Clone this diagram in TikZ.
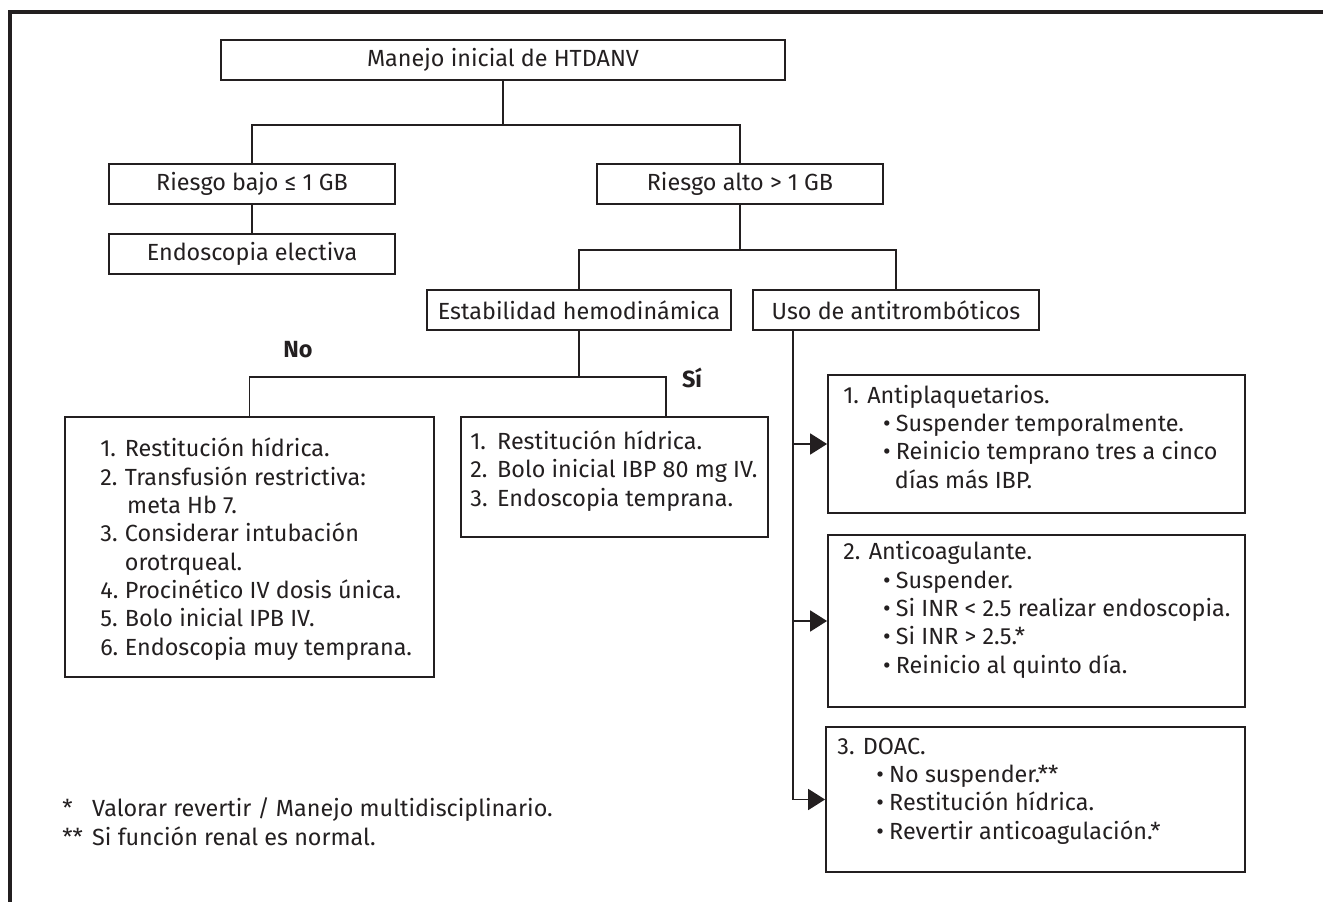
\documentclass[tikz,border=0pt]{standalone}
\usepackage{fontspec}
\setmainfont{Fira Sans}
\usetikzlibrary{positioning, arrows.meta, calc}
\definecolor{ink}{HTML}{231F20}
\newcommand{\lnum}[1]{\makebox[1.05em][l]{#1}}
\newcommand{\lbul}{\makebox[0.55em][l]{\textbullet}}

\begin{document}
\begin{tikzpicture}[x=0.02cm, y=-0.02cm,
    box/.style={draw=ink, line width=1.1pt, minimum height=0.8cm, inner sep=0pt},
    txt/.style={text=ink, font=\fontsize{13.3}{16.1}\selectfont, inner sep=0pt},
    listtxt/.style={txt, align=left, anchor=base west},
    link/.style={draw=ink, line width=1.1pt},
    arr/.style={link, -{Triangle[length=0.34cm, width=0.42cm]}}]
    \clip (0,0) rectangle (1323,902);
    \useasboundingbox (0,0) rectangle (1323,902);
    \draw[ink, line width=1.8pt] (10,12) rectangle (1400,1000);

    % upper part of the tree
    \node[box, txt, minimum width=11.28cm] (top) at (503,60) {Manejo inicial de HTDANV};
    \node[box, txt, minimum width=5.72cm] (bajo) at (252,184) {Riesgo bajo ≤ 1 GB};
    \node[box, txt, minimum width=5.72cm] (endo) at (252,254) {Endoscopia electiva};
    \node[box, txt, minimum width=5.72cm] (alto) at (740,184) {Riesgo alto > 1 GB};
    \node[box, txt, minimum width=6.08cm] (estab) at (579,310) {Estabilidad hemodinámica};
    \node[box, txt, minimum width=5.72cm] (uso) at (896,310) {Uso de antitrombóticos};

    % list boxes
    \node[box, minimum width=7.38cm, minimum height=5.2cm] (nobox) at (249.5,547) {};
    \node[box, minimum width=6.14cm, minimum height=2.4cm] (sibox) at (614.5,477) {};
    \node[box, minimum width=8.34cm, minimum height=2.76cm] (anti) at (1036.5,444) {};
    \node[box, minimum width=8.34cm, minimum height=3.44cm] (coag) at (1036.5,621) {};
    \node[box, minimum width=8.38cm, minimum height=2.9cm] (doac) at (1035.5,799.5) {};

    % the anchor sits on the last line of each text
    \node[listtxt] (nolist) at (100,655) {\lnum{1.}Restitución hídrica.\\
        \lnum{2.}Transfusión restrictiva:\\
        \hspace*{1.15em}meta Hb 7.\\
        \lnum{3.}Considerar intubación\\
        \hspace*{1.05em}orotrqueal.\\
        \lnum{4.}Procinético IV dosis única.\\
        \lnum{5.}Bolo inicial IPB IV.\\
        \lnum{6.}Endoscopia muy temprana.};
    \node[listtxt] (silist) at (470,506) {\makebox[1.15em][l]{1.}Restitución hídrica.\\
        \makebox[1.15em][l]{2.}Bolo inicial IBP 80 mg IV.\\
        \makebox[1.15em][l]{3.}Endoscopia temprana.};
    \node[listtxt] (antilist) at (843,488) {1. Antiplaquetarios.\\
        \hspace*{1.7em}\lbul Suspender temporalmente.\\
        \hspace*{1.7em}\lbul Reinicio temprano tres a cinco\\
        \hspace*{2.2em}días más IBP.};
    \node[listtxt] (coaglist) at (843,673) {2. Anticoagulante.\\
        \hspace*{1.7em}\lbul Suspender.\\
        \hspace*{1.7em}\lbul Si INR < 2.5 realizar endoscopia.\\
        \hspace*{1.7em}\lbul Si INR > 2.5.*\\
        \hspace*{1.7em}\lbul Reinicio al quinto día.};
    \node[listtxt] (doaclist) at (837,839) {3. DOAC.\\
        \hspace*{1.67em}\lbul No suspender.**\\
        \hspace*{1.67em}\lbul Restitución hídrica.\\
        \hspace*{1.67em}\lbul Revertir anticoagulación.*};

    \node[txt, font=\fontsize{13.3}{16.1}\selectfont\bfseries] (no) at (298,350) {No};
    \node[txt, font=\fontsize{13.3}{16.1}\selectfont\bfseries] (si) at (692,378) {Sí};

    \node[listtxt] (notes) at (62,845) {\makebox[1.28em][l]{*}Valorar revertir / Manejo multidisciplinario.\\
        \makebox[1.28em][l]{**}Si función renal es normal.};

    % connectors
    \coordinate (j1) at (503,125);
    \draw[link] (top.south) -- (j1);
    \draw[link] (bajo.north) |- (j1) -| (alto.north);
    \draw[link] (bajo.south) -- (endo.north);
    \coordinate (j2) at (alto.south |- 0,250);
    \draw[link] (alto.south) -- (j2);
    \draw[link] (estab.north) |- (j2) -| (uso.north);
    \coordinate (j3) at (estab.south |- 0,377);
    \draw[link] (estab.south) -- (j3);
    \draw[link] (nobox.north) |- (j3) -| ([xshift=1.03cm]sibox.north);
    \coordinate (t0) at ([xshift=0.82cm]uso.south west);
    \draw[arr] (t0) |- (doac.west);
    \draw[arr] (t0 |- anti.west) -- (anti.west);
    \draw[arr] (t0 |- coag.west) -- (coag.west);
\end{tikzpicture}
\end{document}
